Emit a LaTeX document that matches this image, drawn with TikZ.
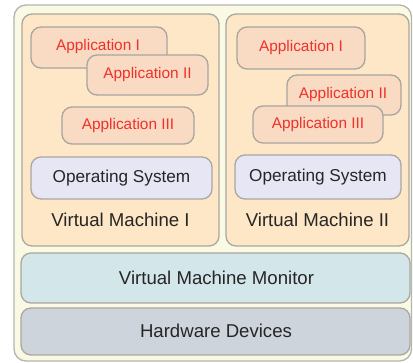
\documentclass[tikz,border=0pt]{standalone}
\usepackage{fontspec}
\setmainfont{Liberation Sans}
\definecolor{outerfill}{HTML}{FAFAE4}
\definecolor{outerdraw}{HTML}{B4B4B0}
\definecolor{vmfill}{HTML}{FDE7C6}
\definecolor{vmdraw}{HTML}{ABA6A0}
\definecolor{appfill}{HTML}{F9DBC3}
\definecolor{appdraw}{HTML}{A8A4A0}
\definecolor{apptext}{HTML}{F0302C}
\definecolor{osfill}{HTML}{E7E6F5}
\definecolor{vmmfill}{HTML}{D3E6EA}
\definecolor{hwfill}{HTML}{CDD4DC}
\definecolor{darktext}{HTML}{262626}
\tikzset{
  box/.style={draw=vmdraw, line width=1.3pt, rounded corners=10pt, inner sep=0pt},
  appfont/.style={font=\fontsize{15.4}{17}\selectfont},
  appbox/.style={box, draw=appdraw, fill=appfill, text=apptext, appfont},
  osbox/.style={box, fill=osfill, text=darktext, font=\fontsize{17.2}{19}\selectfont},
  biglabel/.style={text=darktext, font=\fontsize{18.6}{21}\selectfont, inner sep=0pt},
}
\begin{document}
\begin{tikzpicture}[x=1pt,y=-1pt]
\useasboundingbox (0,0) rectangle (413,363);
% outer
\node[box, draw=outerdraw, fill=outerfill, rounded corners=12pt, minimum width=397.5pt, minimum height=356pt] (outer) at (212.75,183) {};
% VMs
\node[box, fill=vmfill, minimum width=197pt, minimum height=232pt] (vm1) at (120.5,130) {};
\node[box, fill=vmfill, minimum width=183pt, minimum height=232pt] (vm2) at (317.5,130) {};
% VMM and HW
\node[box, fill=vmmfill, minimum width=389pt, minimum height=50pt] (vmm) at (215.5,278) {};
\node[biglabel] (vmmtext) at (216.5,278) {Virtual Machine Monitor};
\node[box, fill=hwfill, minimum width=389pt, minimum height=47pt] (hw) at (215.5,331.5) {};
\node[biglabel] (hwtext) at (216,331) {Hardware Devices};
% VM I contents
\node[appbox, minimum width=136pt, minimum height=41pt] (a11) at (99,47.5) {};
\node[text=apptext, appfont, inner sep=0pt] (a11t) at (98,46.5) {Application I};
\node[appbox, minimum width=121pt, minimum height=40pt] (a12) at (147.5,75) {Application II};
\node[appbox, minimum width=132pt, minimum height=37pt] (a13) at (128,125.5) {Application III};
\node[osbox, minimum width=181pt, minimum height=42pt] (os1) at (121.5,178) {Operating System};
\node[biglabel] (vm1t) at (120.5,220) {Virtual Machine I};
% VM II contents
\node[appbox, minimum width=128pt, minimum height=42pt] (a21) at (301,48) {Application I};
\node[appbox, minimum width=114pt, minimum height=40pt] (a22) at (344,95) {};
\node[text=apptext, appfont, inner sep=0pt] (a22t) at (343,95) {Application II};
\node[appbox, minimum width=130pt, minimum height=37pt] (a23) at (318,124.5) {Application III};
\node[osbox, minimum width=166pt, minimum height=44pt] (os2) at (318,177) {Operating System};
\node[biglabel] (vm2t) at (317.5,220) {Virtual Machine II};
\end{tikzpicture}
\end{document}
